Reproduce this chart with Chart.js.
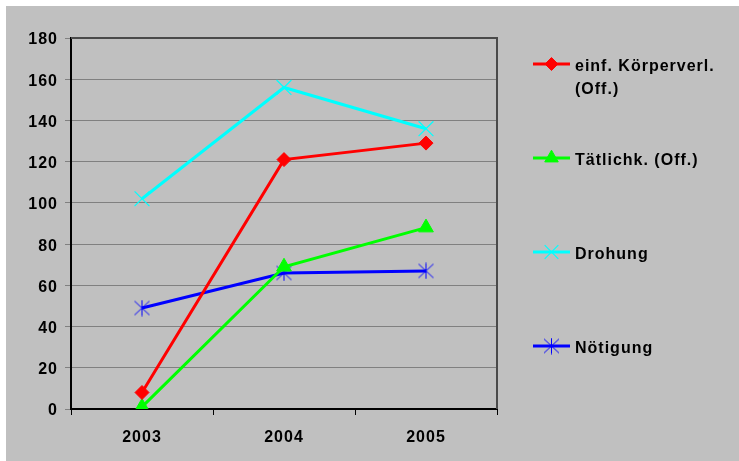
<!DOCTYPE html>
<html>
<head>
<meta charset="utf-8">
<script src="https://cdn.jsdelivr.net/npm/chart.js@4/dist/chart.umd.min.js"></script>
<style>
  html, body { margin: 0; padding: 0; background: #ffffff; }
  #wrap { position: absolute; left: 6px; top: 6px; width: 733px; height: 455px; background: #c0c0c0; }
  canvas { display: block; }
</style>
</head>
<body>
<div id="wrap"><canvas id="c" width="733" height="455"></canvas></div>
<script>
const years = ['2003', '2004', '2005'];
const koerperverl = [8, 121, 129];
const taetlichk = [1, 69, 88];
const drohung = [102, 156, 136];
const noetigung = [49, 66, 67];
const seriesNames = [['einf. Körperverl.', '(Off.)'], ['Tätlichk. (Off.)'], ['Drohung'], ['Nötigung']];
const yMin = 0, yMax = 180, yStep = 20;

const FONT = '"Liberation Sans", Arial, sans-serif';

// asterisk marker (X + vertical bar), like the spreadsheet "star" marker
function makeAsterisk(color) {
  const c = document.createElement('canvas');
  c.width = 17; c.height = 17;
  const g = c.getContext('2d');
  g.strokeStyle = color; g.lineWidth = 1;
  g.beginPath();
  g.moveTo(8.5, 0.5); g.lineTo(8.5, 16.5);
  g.moveTo(1, 1.5); g.lineTo(16, 15.5);
  g.moveTo(16, 1.5); g.lineTo(1, 15.5);
  g.stroke();
  return c;
}
const asterisk = makeAsterisk('#0000ff');

const datasets = [
  { label: seriesNames[0].join(' '), data: koerperverl, borderColor: '#ff0000', backgroundColor: '#ff0000',
    pointStyle: 'rectRot', pointRadius: 7, pointBorderWidth: 1 },
  { label: seriesNames[1].join(' '), data: taetlichk, borderColor: '#00ff00', backgroundColor: '#00ff00',
    pointStyle: 'triangle', pointRadius: 8.5, pointBorderWidth: 1 },
  { label: seriesNames[2].join(' '), data: drohung, borderColor: '#00ffff', backgroundColor: '#00ffff',
    pointStyle: 'crossRot', pointRadius: 10.5, pointBorderWidth: 1.2 },
  { label: seriesNames[3].join(' '), data: noetigung, borderColor: '#0000ff', backgroundColor: '#0000ff',
    pointStyle: asterisk, pointRadius: 8, pointBorderWidth: 1 }
].map((d, i) => Object.assign({ borderWidth: 3, tension: 0, fill: false, _lines: seriesNames[i] }, d));

const spacingPlugin = {
  id: 'spacing',
  beforeDraw(chart) { chart.ctx.letterSpacing = '1px'; }
};

const framePlugin = {
  id: 'frame',
  afterDatasetsDraw(chart) {
    const { ctx, chartArea: a } = chart;
    ctx.save();
    ctx.strokeStyle = '#4a4a4a';
    ctx.lineWidth = 2;
    ctx.beginPath();
    ctx.moveTo(a.left, a.top);
    ctx.lineTo(a.right, a.top);
    ctx.lineTo(a.right, a.bottom);
    ctx.stroke();
    ctx.restore();
  }
};

const legendPlugin = {
  id: 'customLegend',
  afterDraw(chart) {
    const ctx = chart.ctx;
    const ys = [58, 152, 246, 340];
    ctx.save();
    ctx.letterSpacing = '1px';
    chart.data.datasets.forEach((ds, i) => {
      const y = ys[i];
      ctx.strokeStyle = ds.borderColor;
      ctx.lineWidth = 3;
      ctx.beginPath();
      ctx.moveTo(527, y); ctx.lineTo(564, y);
      ctx.stroke();
      ctx.fillStyle = ds.backgroundColor;
      ctx.strokeStyle = ds.borderColor;
      ctx.lineWidth = ds.pointBorderWidth;
      Chart.helpers.drawPoint(ctx, { pointStyle: ds.pointStyle, radius: ds.pointRadius * 0.92, borderWidth: ds.pointBorderWidth, rotation: 0 }, 545.5, y);
      ctx.fillStyle = '#000000';
      ctx.font = 'bold 16px ' + FONT;
      ctx.textAlign = 'left';
      ctx.textBaseline = 'middle';
      ds._lines.forEach((t, k) => ctx.fillText(t, 569, y + 2.5 + k * 23));
    });
    ctx.restore();
  }
};

new Chart(document.getElementById('c'), {
  type: 'line',
  data: { labels: years, datasets },
  plugins: [spacingPlugin, framePlugin, legendPlugin],
  options: {
    responsive: false,
    animation: false,
    devicePixelRatio: 1,
    layout: { padding: { left: 0, top: 32, right: 242, bottom: 0 } },
    plugins: { legend: { display: false }, tooltip: { enabled: false } },
    scales: {
      x: {
        type: 'category',
        offset: true,
        afterFit(s) { s.height = 52; },
        grid: { display: true, drawOnChartArea: false, drawTicks: true, tickLength: 6, color: '#000000', offset: true },
        border: { display: true, color: '#000000', width: 2 },
        ticks: { color: '#000000', padding: 13, font: { family: FONT, size: 16, weight: 'bold' }, maxRotation: 0 }
      },
      y: {
        min: yMin, max: yMax,
        afterFit(s) { s.width = 65; },
        grid: {
          color: (c) => (c.tick && c.tick.value === yMax) ? '#4a4a4a' : '#808080',
          lineWidth: 1, tickLength: 6, tickColor: '#808080'
        },
        border: { display: true, color: '#000000', width: 2 },
        ticks: { stepSize: yStep, color: '#000000', padding: 7, labelOffset: 2, font: { family: FONT, size: 16, weight: 'bold' } }
      }
    }
  }
});
</script>
</body>
</html>
